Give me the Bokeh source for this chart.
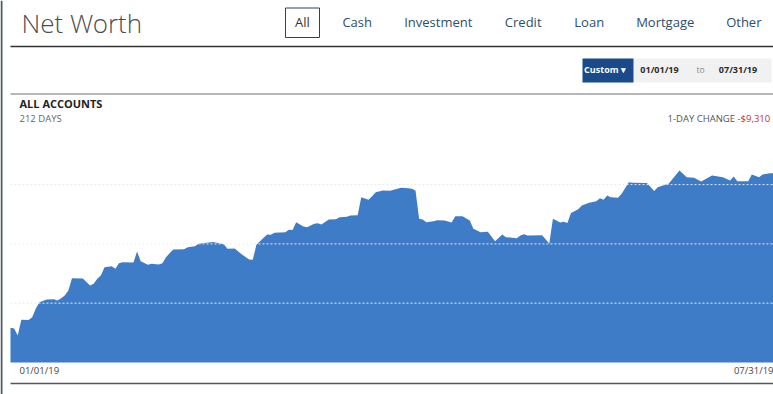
import pandas as pd
from bokeh.plotting import figure
from bokeh.models import Range1d
from bokeh.embed import file_html
from bokeh.resources import INLINE
from bokeh.core.properties import value

# ---------------- data ----------------
START_DATE = "2019-01-01"
DAY_OFFSETS = [0, 1, 2, 3, 5, 6, 7, 8, 10, 12, 13, 14, 15, 16, 17, 20, 22, 23, 24, 25,
               26, 28, 29, 30, 31, 34, 35, 36, 38, 39, 41, 42, 43, 45, 48, 49, 51, 52, 56, 59,
               60, 62, 64, 66, 67, 68, 70, 71, 72, 73, 76, 77, 78, 79, 81, 82, 84, 85, 86, 88,
               90, 91, 93, 94, 96, 97, 99, 100, 101, 103, 105, 106, 108, 110, 111, 112, 113, 114, 115, 117,
               118, 120, 122, 123, 125, 127, 128, 130, 132, 134, 136, 137, 140, 141, 142, 143, 147, 149, 150, 152,
               153, 154, 155, 157, 158, 160, 162, 163, 164, 165, 166, 168, 169, 171, 172, 176, 178, 179, 181, 182,
               185, 187, 189, 191, 194, 197, 199, 200, 201, 204, 205, 207, 208, 210, 211]
NET_WORTH = [35100, 34400, 27300, 43200, 43000, 45800, 54600, 61000, 63800, 64100,
             62700, 65100, 67800, 72900, 85300, 85100, 77900, 79600, 84700, 88000,
             96400, 97500, 94800, 100500, 101500, 101300, 112300, 102500, 98900, 99900,
             99200, 100500, 106600, 114400, 114700, 116700, 117700, 120100, 121900, 119700,
             115100, 115400, 109300, 104200, 104000, 119100, 126200, 129500, 129200, 131300,
             131900, 134300, 134100, 142000, 137600, 136900, 140400, 141000, 139700, 144700,
             145000, 147000, 147400, 148800, 149100, 167300, 164700, 168300, 172300, 174100,
             173900, 174800, 176800, 176400, 175800, 174100, 145400, 144700, 142000, 143000,
             144000, 143700, 141700, 148100, 147900, 143700, 135300, 131900, 132300, 122800,
             129500, 126800, 125800, 128500, 129800, 128500, 128800, 120400, 145400, 141700,
             142400, 141200, 151300, 155000, 158900, 161600, 163200, 166300, 164700, 169000,
             167300, 166700, 170700, 182500, 181900, 181700, 173400, 177400, 179800, 180800,
             194300, 187500, 186900, 183200, 189200, 187500, 184200, 188200, 183500, 183300,
             190300, 187500, 190100, 191600, 191500]
GRID_VALUES = [60000, 120000, 180000]

TITLE = "Net Worth"
TABS = ["All", "Cash", "Investment", "Credit", "Loan", "Mortgage", "Other"]
RANGE_BUTTON = "Custom \u25BE"
FROM_LABEL = "01/01/19"
TO_WORD = "to"
TO_LABEL = "07/31/19"
SECTION = "ALL ACCOUNTS"
DAYS_LABEL = "212 DAYS"
CHANGE_LABEL = "1-DAY CHANGE"
CHANGE_VALUE = "-$9,310"
X_START_LABEL = "01/01/19"
X_END_LABEL = "07/31/19"

# ---------------- layout ----------------
W, H = 773, 394
LEFT_PX = 10
BASE_PX = 362
PX_PER_DOLLAR = 59.3 / 60000.0

dates = pd.Timestamp(START_DATE) + pd.to_timedelta(DAY_OFFSETS, unit="D")
t0 = dates[0].value / 1e6
t1 = dates[-1].value / 1e6
ms_per_px = (t1 - t0) / (W - LEFT_PX)

p = figure(width=W, height=H, output_backend="svg", toolbar_location=None,
           x_range=Range1d(t0 - LEFT_PX * ms_per_px, t1),
           y_range=Range1d(-(H - BASE_PX) / PX_PER_DOLLAR, BASE_PX / PX_PER_DOLLAR),
           x_axis_location=None, y_axis_location=None, min_border=0)
p.outline_line_color = None
p.grid.visible = False
p.background_fill_color = "white"
p.border_fill_color = "white"
p.extra_x_ranges = {"px": Range1d(0, W)}
p.extra_y_ranges = {"px": Range1d(H, 0)}

FONT = value("Open Sans")
PX = dict(x_range_name="px", y_range_name="px")

# area
p.varea(x=dates, y1=0, y2=NET_WORTH, fill_color="#3f7cc8")
# gridlines on top
p.segment(x0=dates[0], x1=dates[-1], y0=GRID_VALUES, y1=GRID_VALUES,
          line_color="#e6eaf0", line_width=1, line_dash="2 2")

# ------------- page chrome -------------
p.segment(x0=[1], x1=[1], y0=[0], y1=[H], line_color="#4f5a66", line_width=2, **PX)
p.segment(x0=[10, 10, 10], x1=[W, W, W], y0=[46, 93.5, 383], y1=[46, 93.5, 383],
          line_color=["#333333", "#6f6f6f", "#555555"], line_width=[1.5, 1, 1.3], **PX)

# title
p.text(x=[21], y=[22], text=[TITLE], text_font=value("Open Sans Light"),
       text_font_size="26px", text_color="#4d4d4d", text_baseline="alphabetic", **PX)

# tabs
tab_x = [302, 356.7, 437.8, 522.7, 588.7, 664.7, 743.3]
p.quad(left=[285], right=[319], top=[7.5], bottom=[37], fill_color=None,
       line_color="#34414f", line_width=1, **PX)
p.text(x=tab_x, y=[21] * len(TABS), text=TABS, text_font=FONT, text_font_size="13px",
       text_color=["#333333"] + ["#2e4d6d"] * (len(TABS) - 1),
       text_align="center", text_baseline="alphabetic", **PX)

# date range controls
p.quad(left=[633], right=[771], top=[58], bottom=[82], fill_color="#f1f1f1",
       line_color=None, **PX)
p.quad(left=[582], right=[633], top=[58], bottom=[82], fill_color="#1a4a8a",
       line_color=None, **PX)
p.text(x=[604.5], y=[68.5], text=[RANGE_BUTTON], text_font=FONT, text_font_size="9px",
       text_font_style="bold", text_color="white", text_align="center",
       text_baseline="alphabetic", **PX)
p.text(x=[659, 737.5], y=[68.5, 68.5], text=[FROM_LABEL, TO_LABEL], text_font=FONT,
       text_font_size="9px", text_font_style="bold", text_color="#2a2a2a",
       text_align="center", text_baseline="alphabetic", **PX)
p.text(x=[700], y=[68.5], text=[TO_WORD], text_font=FONT, text_font_size="8.5px",
       text_color="#8a8a8a", text_align="center", text_baseline="alphabetic", **PX)

# section header
p.text(x=[19], y=[102.5], text=[SECTION], text_font=FONT, text_font_size="11px",
       text_font_style="bold", text_color="#222222", text_baseline="alphabetic", **PX)
p.text(x=[19], y=[118], text=[DAYS_LABEL], text_font=FONT, text_font_size="9.5px",
       text_color="#666666", text_baseline="alphabetic", **PX)
p.text(x=[667], y=[118], text=[CHANGE_LABEL], text_font=FONT, text_font_size="9.5px",
       text_color="#555555", text_baseline="alphabetic", **PX)
p.text(x=[737], y=[118], text=[CHANGE_VALUE], text_font=FONT, text_font_size="9.5px",
       text_color="#b8323c", text_baseline="alphabetic", **PX)

# x labels
p.text(x=[dates[0]], y=[-2000], text=[X_START_LABEL], text_font=FONT, text_font_size="9.5px",
       text_color="#444444", text_baseline="top", x_offset=9)
p.text(x=[dates[-1]], y=[-2000], text=[X_END_LABEL], text_font=FONT, text_font_size="9.5px",
       text_color="#444444", text_baseline="top", text_align="right")

open("out.html", "w").write(file_html(p, INLINE))
